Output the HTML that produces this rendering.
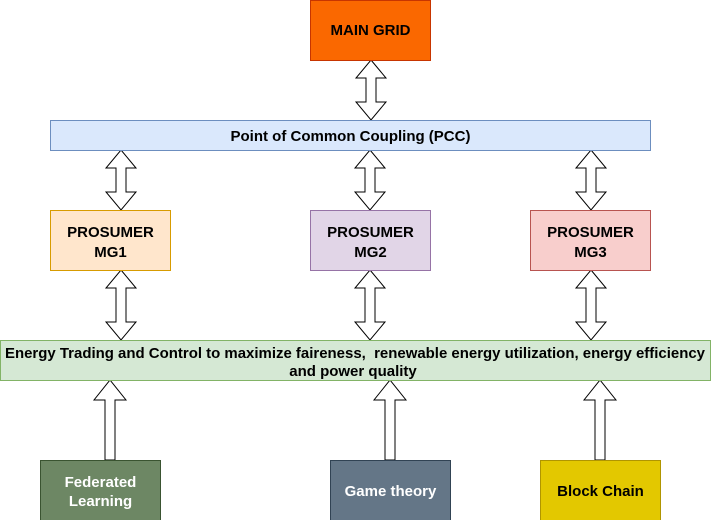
<!DOCTYPE html>
<html><head><meta charset="utf-8"><style>
html,body{margin:0;padding:0;background:#fff;}
svg{display:block;font-family:"Liberation Sans",Arial,sans-serif;font-weight:bold;}
</style></head><body>
<svg width="711" height="520" viewBox="0 0 711 520" xmlns="http://www.w3.org/2000/svg">
<g stroke="#000" stroke-width="1" fill="#fff">
<polygon points="371,60 386,78 376,78 376,102 386,102 371,120 356,102 366,102 366,78 356,78"/>
<polygon points="121,150 136,168 126,168 126,192 136,192 121,210 106,192 116,192 116,168 106,168"/>
<polygon points="370,150 385,168 375,168 375,192 385,192 370,210 355,192 365,192 365,168 355,168"/>
<polygon points="591,150 606,168 596,168 596,192 606,192 591,210 576,192 586,192 586,168 576,168"/>
<polygon points="121,270 136,288 126,288 126,322 136,322 121,340 106,322 116,322 116,288 106,288"/>
<polygon points="370,270 385,288 375,288 375,322 385,322 370,340 355,322 365,322 365,288 355,288"/>
<polygon points="591,270 606,288 596,288 596,322 606,322 591,340 576,322 586,322 586,288 576,288"/>
<polygon points="110,380 126,400 115,400 115,460 105,460 105,400 94,400"/>
<polygon points="390,380 406,400 395,400 395,460 385,460 385,400 374,400"/>
<polygon points="600,380 616,400 605,400 605,460 595,460 595,400 584,400"/>
</g>
<rect x="310.5" y="0.5" width="120" height="60" fill="#fa6800" stroke="#c73500"/>
<text x="370.5" y="35" font-size="15" text-anchor="middle" fill="#000">MAIN GRID</text>
<rect x="50.5" y="120.5" width="600" height="30" fill="#dae8fc" stroke="#6c8ebf"/>
<text x="350.5" y="141" font-size="15" text-anchor="middle">Point of Common Coupling (PCC)</text>
<rect x="50.5" y="210.5" width="120" height="60" fill="#ffe6cc" stroke="#d79b00"/>
<text x="110.5" y="237" font-size="15" text-anchor="middle">PROSUMER</text>
<text x="110.5" y="257" font-size="15" text-anchor="middle">MG1</text>
<rect x="310.5" y="210.5" width="120" height="60" fill="#e1d5e7" stroke="#9673a6"/>
<text x="370.5" y="237" font-size="15" text-anchor="middle">PROSUMER</text>
<text x="370.5" y="257" font-size="15" text-anchor="middle">MG2</text>
<rect x="530.5" y="210.5" width="120" height="60" fill="#f8cecc" stroke="#b85450"/>
<text x="590.5" y="237" font-size="15" text-anchor="middle">PROSUMER</text>
<text x="590.5" y="257" font-size="15" text-anchor="middle">MG3</text>
<rect x="0.5" y="340.5" width="710" height="40" fill="#d5e8d4" stroke="#82b366"/>
<text x="5" y="358" font-size="15" textLength="700" lengthAdjust="spacingAndGlyphs" xml:space="preserve">Energy Trading and Control to maximize faireness,  renewable energy utilization, energy efficiency</text>
<text x="353" y="376" font-size="15" text-anchor="middle">and power quality</text>
<rect x="40.5" y="460.5" width="120" height="60" fill="#6d8764" stroke="#3a5431"/>
<text x="100.5" y="487" font-size="15" text-anchor="middle" fill="#fff">Federated</text>
<text x="100.5" y="506" font-size="15" text-anchor="middle" fill="#fff">Learning</text>
<rect x="330.5" y="460.5" width="120" height="60" fill="#647687" stroke="#314354"/>
<text x="390.5" y="496" font-size="15" text-anchor="middle" fill="#fff">Game theory</text>
<rect x="540.5" y="460.5" width="120" height="60" fill="#e3c800" stroke="#b09500"/>
<text x="600.5" y="496" font-size="15" text-anchor="middle" fill="#000">Block Chain</text>
</svg>
</body></html>
